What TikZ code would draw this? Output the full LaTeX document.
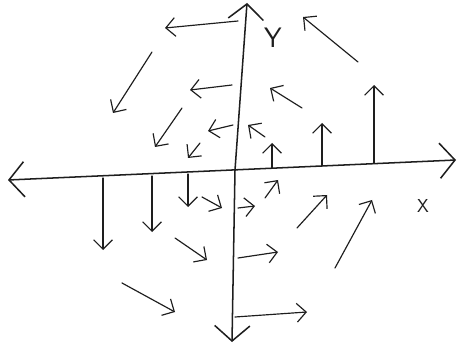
\documentclass[tikz,border=0pt]{standalone}
\usepackage{tikz}
\usetikzlibrary{arrows.meta}
\definecolor{pencil}{HTML}{1E1E1E}

\begin{document}
\begin{tikzpicture}[x=0.03cm,y=-0.03cm]
\tikzstyle{axis}=[draw=pencil,line width=1.3pt,line cap=round,{Straight Barb[length=13pt,width=30pt]}-{Straight Barb[length=13pt,width=30pt]}]
\tikzstyle{vec}=[draw=pencil,line width=1pt,line cap=round,-{Straight Barb[length=8pt,width=16pt]}]
\tikzstyle{lbl}=[text=pencil,font=\sffamily]
\useasboundingbox (0,0) rectangle (459,348);
% axes
\coordinate (xl) at (8,180);
\coordinate (xr) at (456,160);
\coordinate (yb) at (232,342);
\coordinate (o) at (235,170);
\coordinate (yt) at (247,3);
\draw[axis] (xl) -- (xr);
\draw[axis] (yb) -- (o) -- (yt);
\node[lbl,font=\sffamily\fontsize{24}{24}\selectfont] (ylab) at (273,38) {Y};
\node[lbl,font=\sffamily\fontsize{16}{16}\selectfont] (xlab) at (423,206) {X};
% field arrows, tail/head
\foreach \n/\t/\h in {1/{238,21}/{165,28},2/{152,52}/{113,113},3/{232,85}/{190,90},
    4/{182,108}/{155,147},5/{233,125}/{208,131},6/{200,143}/{188,158},
    7/{358,62}/{303,17},8/{302,108}/{270,88},9/{265,137}/{248,125},
    10/{272,168}/{272,143},11/{322,166}/{322,123},12/{374,163}/{374,85},
    13/{103,178}/{103,250},14/{152,176}/{152,232},15/{188,174}/{188,207},
    16/{202,197}/{222,208},17/{175,238}/{207,260},18/{122,283}/{175,312},
    19/{265,198}/{278,180},20/{238,208}/{255,206},21/{297,228}/{327,195},
    22/{335,268}/{372,200},23/{238,258}/{278,252},24/{235,317}/{307,312}}{
    \coordinate (t\n) at (\t);
    \coordinate (h\n) at (\h);
    \draw[vec] (t\n) -- (h\n);
}
\end{tikzpicture}
\end{document}
